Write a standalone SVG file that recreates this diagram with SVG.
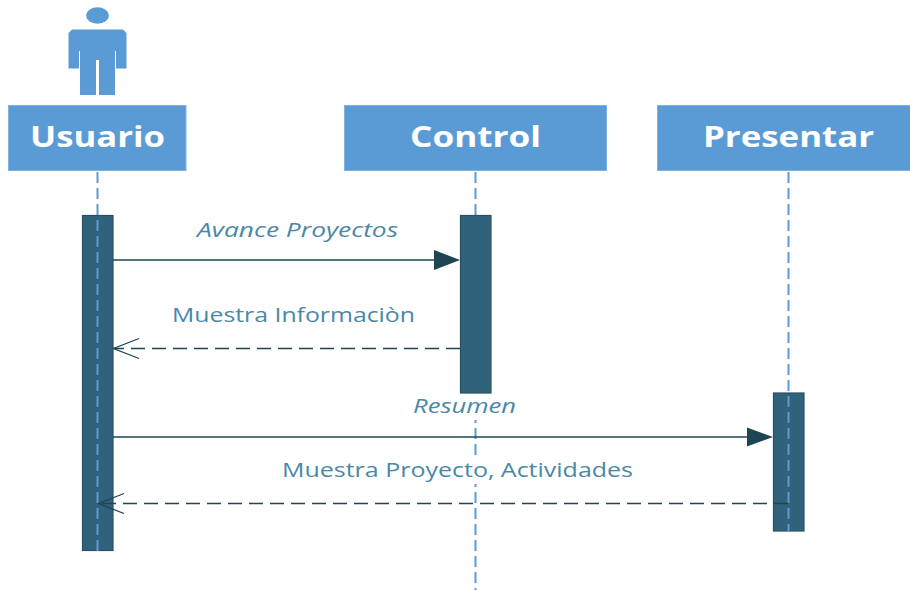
<svg xmlns="http://www.w3.org/2000/svg" width="910" height="590" viewBox="0 0 910 590">
<style>
.head{fill:#5b9bd5;stroke:#7fb2e0;stroke-width:1}
.name{font-family:"Open Sans","Noto Sans",sans-serif;font-weight:700;font-size:29px;fill:#fff}
.bar{fill:#31627b;stroke:#2a4f63;stroke-width:1.2}
.life{stroke:#5b9bd5;stroke-width:2;stroke-dasharray:11 5;fill:none}
.msg{stroke:#1f4454;stroke-width:1.4;fill:none}
.ret{stroke:#1f4454;stroke-width:1.4;fill:none;stroke-dasharray:14 7}
.tip{fill:#1f4454;stroke:none}
.open{stroke:#1f4454;stroke-width:1.3;fill:none}
.lab{font-family:"Open Sans","Noto Sans",sans-serif;font-size:20px;fill:#4a88a8}
.it{font-style:italic}
</style>
<g id="actor-usuario">
<ellipse cx="97.500" cy="15.500" rx="11.300" ry="8.200" fill="#5b9bd5"/>
<path d="M72 29.500H123L126.500 33V68.500H116V51H115V95H99V60H96V95H80V51H79V68.500H68.500V33Z" fill="#5b9bd5"/>
<rect class="head" x="8.500" y="105.500" width="177.500" height="65"/>
<text class="name" x="30" y="147" textLength="135" lengthAdjust="spacingAndGlyphs">Usuario</text>
</g>
<g id="node-control">
<rect class="head" x="344.500" y="105.500" width="262" height="65"/>
<text class="name" x="410" y="147" textLength="131" lengthAdjust="spacingAndGlyphs">Control</text>
</g>
<g id="node-presentar">
<rect class="head" x="657.500" y="105.500" width="262" height="65"/>
<text class="name" x="703" y="147" textLength="171" lengthAdjust="spacingAndGlyphs">Presentar</text>
</g>
<g id="lifeline-control">
<line class="life" x1="475.500" y1="172" x2="475.500" y2="590"/>
<rect x="411" y="396" width="108" height="24" fill="#fff"/>
<rect x="283" y="458" width="350" height="26" fill="#fff"/>
</g>
<g id="activation-control"><rect class="bar" x="460.500" y="215.500" width="30.500" height="177.500"/></g>
<g id="activation-usuario"><rect class="bar" x="82.500" y="215.500" width="30.500" height="335"/></g>
<g id="activation-presentar"><rect class="bar" x="773.500" y="393" width="30.500" height="138"/></g>
<g id="lifelines">
<line class="life" x1="97.500" y1="172" x2="97.500" y2="551"/>
<line class="life" x1="788.500" y1="172" x2="788.500" y2="531"/>
</g>
<g id="connectors">
<line class="msg" x1="113" y1="260" x2="436" y2="260"/>
<path class="tip" d="M434 250L460 260L434 270Z"/>
<line class="ret" x1="460" y1="348.500" x2="114" y2="348.500"/>
<path class="open" d="M139 338.500L113.500 348.500L139 358.500"/>
<line class="msg" x1="113" y1="437" x2="749" y2="437"/>
<path class="tip" d="M747 427.500L773 437L747 446.500Z"/>
<line class="ret" x1="788" y1="503.500" x2="99" y2="503.500"/>
<path class="open" d="M124 493.500L98.500 503.500L124 513.500"/>
</g>
<g id="labels">
<text class="lab it" x="197" y="237" textLength="201" lengthAdjust="spacingAndGlyphs">Avance Proyectos</text>
<text class="lab" x="172" y="322" textLength="243" lengthAdjust="spacingAndGlyphs">Muestra Informaciòn</text>
<text class="lab it" x="413" y="413" textLength="103" lengthAdjust="spacingAndGlyphs">Resumen</text>
<text class="lab" x="282" y="477" textLength="351" lengthAdjust="spacingAndGlyphs">Muestra Proyecto, Actividades</text>
</g>
</svg>
